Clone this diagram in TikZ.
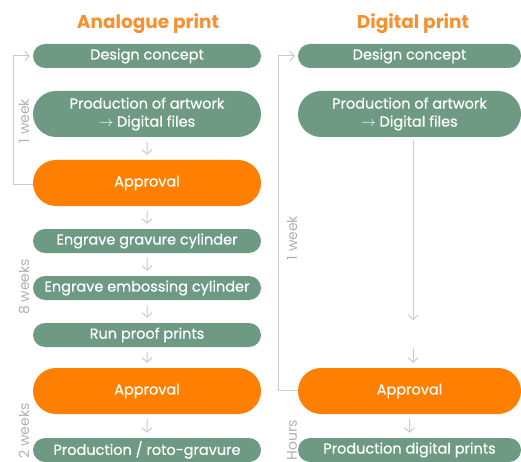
\documentclass[tikz,border=0pt]{standalone}
\usepackage{fontspec}
\setmainfont{Poppins}
\newfontfamily\boxfont{Poppins}[FakeBold=0.5]
\usetikzlibrary{arrows.meta,shapes.misc}
\definecolor{boxgreen}{HTML}{6E9A84}
\definecolor{apporange}{HTML}{FF7F00}
\definecolor{titleorange}{HTML}{F7902E}
\definecolor{linegray}{HTML}{CACACA}
\definecolor{notegray}{HTML}{B0B0B0}

\begin{document}
\begin{tikzpicture}[x=1pt,y=-1pt]
\tikzstyle{stepbox}=[rounded rectangle, fill=boxgreen, text=white, minimum width=228pt, minimum height=24pt, inner sep=0pt, font=\boxfont\fontsize{14.5}{18}\selectfont, align=center]
\tikzstyle{tallbox}=[stepbox, minimum height=46pt]
\tikzstyle{approvalbox}=[tallbox, fill=apporange]
\tikzstyle{flow}=[draw=linegray, line width=1pt, -{Straight Barb[length=4.5pt,width=10pt]}, shorten <=5pt, shorten >=5pt]
\tikzstyle{bracket}=[draw=linegray, line width=1pt]
\tikzstyle{note}=[text=notegray, rotate=90, font=\fontsize{14}{16}\selectfont]
\tikzstyle{title}=[text=titleorange, font=\fontsize{18.5}{20}\selectfont\bfseries]
\useasboundingbox (0,0) rectangle (521,462);
% analogue print
\node[title] (atitle) at (148,24) {Analogue print};
\node[stepbox] (adesign) at (147,56) {Design concept};
\node[tallbox] (aart) at (147,114) {Production of artwork\\$\rightarrow$ Digital files};
\node[approvalbox] (aappr) at (147,183) {Approval};
\node[stepbox] (agrav) at (147,241) {Engrave gravure cylinder};
\node[stepbox] (aemb) at (147,288) {Engrave embossing cylinder};
\node[stepbox] (aproof) at (147,335) {Run proof prints};
\node[approvalbox] (aappr2) at (147,391) {Approval};
\node[stepbox] (aprod) at (147,450) {Production / roto-gravure};
\draw[flow] (aart) -- (aappr);
\draw[flow] (aappr) -- (agrav);
\draw[flow] (agrav) -- (aemb);
\draw[flow] (aemb) -- (aproof);
\draw[flow] (aproof) -- (aappr2);
\draw[flow] (aappr2) -- (aprod);
\draw[bracket, -{Straight Barb[length=4.5pt,width=10pt]}, shorten >=3pt] (aappr.west |- 0,185) -- (13,185) |- (adesign.west);
\node[note] (aweek) at (24,121) {1 week};
\node[note] (aweeks8) at (24,287) {8 weeks};
\node[note] (aweeks2) at (24,431) {2 weeks};
% digital print
\node[title] (dtitle) at (413,24) {Digital print};
\node[stepbox, minimum width=223pt] (ddesign) at (409.5,56) {Design concept};
\node[tallbox, minimum width=223pt] (dart) at (409.5,114) {Production of artwork\\$\rightarrow$ Digital files};
\node[approvalbox, minimum width=223pt] (dappr) at (409.5,391) {Approval};
\node[stepbox, minimum width=223pt] (dprod) at (409.5,450) {Production digital prints};
\coordinate (dgap1) at (413,320);
\coordinate (dgap2) at (413,348);
\draw[flow, shorten >=0pt, shorten <=3pt] (dart.south -| dgap1) -- (dgap1);
\draw[flow, shorten <=0pt] (dgap2) -- (dappr.north -| dgap2);
\draw[flow] (dappr) -- (dprod);
\draw[bracket, -{Straight Barb[length=4.5pt,width=10pt]}, shorten >=3pt] (dappr.west |- 0,390) -- (278,390) |- (ddesign.west);
\node[note] (dweek) at (292,238) {1 week};
\node[note] (dhours) at (292,440) {Hours};
\end{tikzpicture}
\end{document}
